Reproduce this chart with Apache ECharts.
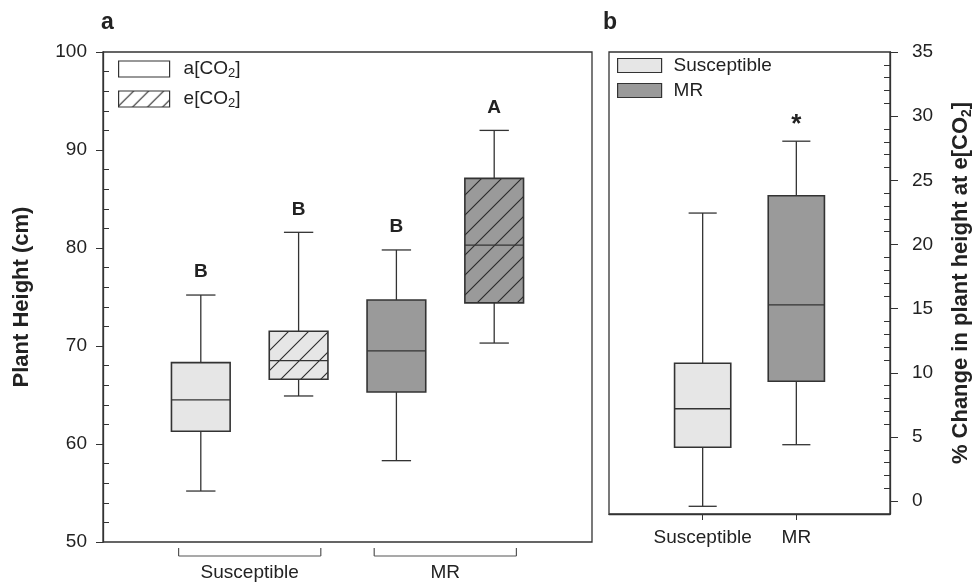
<!DOCTYPE html>
<html>
<head>
<meta charset="utf-8">
<script src="https://cdn.jsdelivr.net/npm/echarts@6/dist/echarts.min.js"></script>
<style>
  html, body { margin: 0; padding: 0; background: #fff; }
  #chart { width: 977px; height: 583px; }
</style>
</head>
<body>
<div id="chart"></div>
<script>
// panel a: plant height, four boxes (genotype x CO2)
const groupsA = ['Susceptible', 'MR']
const treatA = ['a[CO2]', 'e[CO2]']
const posA = [1, 2, 3, 4]
const genoA = [0, 0, 1, 1]
const treatIdxA = [0, 1, 0, 1]
const minA = [55.2, 64.9, 58.3, 70.3]
const q1A = [61.3, 66.6, 65.3, 74.4]
const medA = [64.5, 68.5, 69.5, 80.3]
const q3A = [68.3, 71.5, 74.7, 87.1]
const maxA = [75.2, 81.6, 79.8, 92.0]
const lettersA = ['B', 'B', 'B', 'A']
const groupPosA = [1.5, 3.5]

// panel b: % change at e[CO2]
const catsB = ['Susceptible', 'MR']
const posB = [1, 2]
const minB = [-0.4, 4.4]
const q1B = [4.2, 9.35]
const medB = [7.2, 15.3]
const q3B = [10.75, 23.8]
const maxB = [22.45, 28.05]
const marksB = ['', '*']

const ticksA = [50, 60, 70, 80, 90, 100]
const ticksB = [0, 5, 10, 15, 20, 25, 30, 35]

const FONT = '"Liberation Sans", Arial, sans-serif'
const INK = '#222'
const LINE = '#333'
const fills = ['#e6e6e6', '#9a9a9a']

function hatch(bg, step) {
    const c = document.createElement('canvas')
    c.width = c.height = step
    const g = c.getContext('2d')
    g.fillStyle = bg
    g.fillRect(0, 0, step, step)
    g.strokeStyle = '#2a2a2a'
    g.lineWidth = 1.1
    g.beginPath()
    g.moveTo(0, step); g.lineTo(step, 0)
    g.moveTo(-2, 2); g.lineTo(2, -2)
    g.moveTo(step - 2, step + 2); g.lineTo(step + 2, step - 2)
    g.stroke()
    return { image: c, repeat: 'repeat' }
}

const hatchFills = [hatch(fills[0], 20), hatch(fills[1], 20)]

// minor tick positions (between the labelled ones)
const minorA = []
for (let v = 50; v <= 100; v += 2) if (v % 10 !== 0) minorA.push(v)
const minorB = []
for (let v = 1; v < 35; v += 1) if (v % 5 !== 0) minorB.push(v)

function boxRender(getFill, getMark) {
    return function (params, api) {
        const x = api.value(0)
        const lo = api.coord([x, api.value(1)])
        const q1 = api.coord([x, api.value(2)])
        const md = api.coord([x, api.value(3)])
        const q3 = api.coord([x, api.value(4)])
        const hi = api.coord([x, api.value(5)])
        const half = api.size([0.6, 0])[0] / 2
        const cap = half / 2
        const cx = md[0]
        const ls = { stroke: LINE, lineWidth: 1.3 }
        const mark = getMark(params.dataIndex)
        const star = mark === '*'
        return {
            type: 'group',
            children: [
                { type: 'line', shape: { x1: cx, y1: q1[1], x2: cx, y2: lo[1] }, style: ls },
                { type: 'line', shape: { x1: cx - cap, y1: lo[1], x2: cx + cap, y2: lo[1] }, style: ls },
                { type: 'line', shape: { x1: cx, y1: q3[1], x2: cx, y2: hi[1] }, style: ls },
                { type: 'line', shape: { x1: cx - cap, y1: hi[1], x2: cx + cap, y2: hi[1] }, style: ls },
                { type: 'rect', shape: { x: cx - half, y: q3[1], width: half * 2, height: q1[1] - q3[1] },
                  style: { fill: getFill(params.dataIndex), stroke: LINE, lineWidth: 1.6 } },
                { type: 'line', shape: { x1: cx - half, y1: md[1], x2: cx + half, y2: md[1] }, style: ls },
                { type: 'text', x: cx, y: hi[1] - (star ? 16 : 23),
                  style: { text: mark, font: 'bold ' + (star ? 26 : 19) + 'px ' + FONT, fill: INK,
                           align: 'center', verticalAlign: 'middle' } }
            ]
        }
    }
}

const seriesA = treatA.map((name, t) => {
    const idx = posA.map((p, i) => i).filter(i => treatIdxA[i] === t)
    return {
        type: 'custom',
        name: name,
        xAxisIndex: 0,
        yAxisIndex: 0,
        data: idx.map(i => [posA[i], minA[i], q1A[i], medA[i], q3A[i], maxA[i]]),
        renderItem: boxRender(
            d => t === 1 ? hatchFills[genoA[idx[d]]] : fills[genoA[idx[d]]],
            d => lettersA[idx[d]]
        )
    }
})

const seriesB = catsB.map((name, i) => ({
    type: 'custom',
    name: name,
    xAxisIndex: 1,
    yAxisIndex: 2,
    data: [[posB[i], minB[i], q1B[i], medB[i], q3B[i], maxB[i]]],
    renderItem: boxRender(() => fills[i], () => marksB[i])
}))

// group brackets under panel a
const bracketSeries = {
    type: 'custom',
    name: 'groups',
    xAxisIndex: 0,
    yAxisIndex: 0,
    silent: true,
    clip: false,
    data: groupPosA.map(p => [p, 50]),
    renderItem: function (params, api) {
        const c = api.coord([api.value(0), api.value(1)])
        const hw = api.size([0.727, 0])[0]
        const ls = { stroke: '#555', lineWidth: 1.2 }
        const y = c[1] + 14
        return {
            type: 'group',
            children: [
                { type: 'line', shape: { x1: c[0] - hw, y1: y, x2: c[0] + hw, y2: y }, style: ls },
                { type: 'line', shape: { x1: c[0] - hw, y1: y, x2: c[0] - hw, y2: y - 8 }, style: ls },
                { type: 'line', shape: { x1: c[0] + hw, y1: y, x2: c[0] + hw, y2: y - 8 }, style: ls },
                { type: 'text', x: c[0], y: y + 17,
                  style: { text: groupsA[params.dataIndex], font: '19px ' + FONT, fill: INK,
                           align: 'center', verticalAlign: 'middle' } }
            ]
        }
    }
}

const subRich = {
    s: { fontSize: 13, verticalAlign: 'bottom', fontFamily: FONT, color: INK }
}
const co2 = name => name.replace('CO2', 'CO{s|2}')

const myChart = echarts.init(document.getElementById('chart'))
myChart.setOption({
    animation: false,
    textStyle: { fontFamily: FONT, color: INK },
    graphic: [
        { type: 'text', left: 101, top: 11, style: { text: 'a', font: 'bold 23px ' + FONT, fill: INK } },
        { type: 'text', left: 603, top: 11, style: { text: 'b', font: 'bold 23px ' + FONT, fill: INK } }
    ],
    legend: [
        {
            orient: 'vertical', left: 118, top: 58, padding: 0,
            itemWidth: 51, itemHeight: 16, itemGap: 8, icon: 'rect',
            data: [
                { name: treatA[0], itemStyle: { color: '#fff', borderColor: LINE, borderWidth: 1.2 } },
                { name: treatA[1], itemStyle: { color: hatch('#fff', 15), borderColor: LINE, borderWidth: 1.2 } }
            ],
            formatter: co2,
            textStyle: { fontSize: 19, color: INK, lineHeight: 22, padding: [0, 0, 0, 9], rich: subRich },
            selectedMode: false
        },
        {
            orient: 'vertical', left: 617, top: 56, padding: 0,
            itemWidth: 44, itemHeight: 14, itemGap: 6, icon: 'rect',
            data: [
                { name: catsB[0], itemStyle: { color: fills[0], borderColor: LINE, borderWidth: 1.2 } },
                { name: catsB[1], itemStyle: { color: fills[1], borderColor: LINE, borderWidth: 1.2 } }
            ],
            textStyle: { fontSize: 19, color: INK, padding: [0, 0, 0, 7] },
            selectedMode: false
        }
    ],
    grid: [
        { left: 103, top: 52, width: 489, height: 490, show: true, borderColor: LINE, borderWidth: 1.3, backgroundColor: 'transparent' },
        { left: 609, top: 52, width: 281, height: 462, show: true, borderColor: LINE, borderWidth: 1.3, backgroundColor: 'transparent' }
    ],
    xAxis: [
        { type: 'value', gridIndex: 0, min: 0, max: 5, axisLine: { show: false },
          axisTick: { show: false }, axisLabel: { show: false }, splitLine: { show: false } },
        { type: 'value', gridIndex: 1, min: 0, max: 3, position: 'bottom', splitLine: { show: false },
          axisLine: { show: true, onZero: false, lineStyle: { color: LINE, width: 1.3 } },
          axisTick: { show: true, length: 6, customValues: posB, lineStyle: { color: LINE } },
          axisLabel: { customValues: posB, formatter: v => catsB[posB.indexOf(v)] || '',
                       fontSize: 19, color: INK, margin: 14 } }
    ],
    yAxis: [
        { type: 'value', gridIndex: 0, position: 'left', min: 50, max: 100, interval: 10, splitLine: { show: false },
          axisLine: { show: true, onZero: false, lineStyle: { color: LINE, width: 1.3 } },
          axisTick: { show: true, length: 7, customValues: ticksA, lineStyle: { color: LINE } },
          axisLabel: { customValues: ticksA, fontSize: 19, color: INK, margin: 16 },
          name: 'Plant Height (cm)', nameLocation: 'middle', nameGap: 70, nameRotate: 90,
          nameTextStyle: { fontSize: 22, fontWeight: 'bold', color: INK } },
        { type: 'value', gridIndex: 0, position: 'left', offset: 0, min: 50, max: 100, splitLine: { show: false },
          axisLine: { show: false, onZero: false }, axisLabel: { show: false },
          axisTick: { show: true, inside: true, length: 6, customValues: minorA, lineStyle: { color: LINE } } },
        { type: 'value', gridIndex: 1, position: 'right', min: -1, max: 35, splitLine: { show: false },
          axisLine: { show: true, onZero: false, lineStyle: { color: LINE, width: 1.3 } },
          axisTick: { show: true, length: 8, customValues: ticksB, lineStyle: { color: LINE } },
          axisLabel: { customValues: ticksB, fontSize: 19, color: INK, margin: 22 },
          name: '% Change in plant height at e[CO{s|2}]', nameLocation: 'middle', nameGap: 58, nameRotate: 90,
          nameTextStyle: { fontSize: 22, fontWeight: 'bold', color: INK, lineHeight: 26,
                           rich: { s: { fontSize: 14, fontWeight: 'bold', verticalAlign: 'bottom', color: INK } } } },
        { type: 'value', gridIndex: 1, position: 'right', offset: 0, min: -1, max: 35, splitLine: { show: false },
          axisLine: { show: false, onZero: false }, axisLabel: { show: false },
          axisTick: { show: true, inside: true, length: 6, customValues: minorB, lineStyle: { color: LINE } } }
    ],
    series: seriesA.concat(seriesB, [bracketSeries])
})
</script>
</body>
</html>
